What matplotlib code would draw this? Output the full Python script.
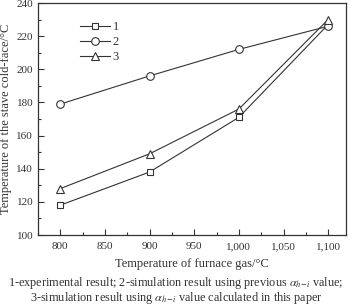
import matplotlib
matplotlib.use('Agg')
import matplotlib.pyplot as plt
from matplotlib.ticker import MultipleLocator

plt.rcParams['font.family'] = ['Liberation Serif', 'DejaVu Serif']
plt.rcParams['mathtext.fontset'] = 'stix'

# 数据
gas_temp = [800, 900, 1000, 1100]
exp_result = [118, 138, 171, 227]        # 1
sim_previous = [179, 196, 212, 226]      # 2
sim_this = [128, 149, 176, 230]          # 3
xticks = [800, 850, 900, 950, 1000, 1050, 1100]
xtick_labels = ['800', '850', '900', '950', '1,000', '1,050', '1,100']

c = '#333333'
fig = plt.figure(figsize=(3.52, 3.06), dpi=100)
ax = fig.add_axes([38/352, 1-235/306, 308/352, 232/306])

ax.plot(gas_temp, exp_result, color=c, lw=0.8, marker='s', ms=5, mfc='white', mec=c, mew=0.8, label='1')
ax.plot(gas_temp, sim_previous, color=c, lw=0.8, marker='o', ms=5.5, mfc='white', mec=c, mew=0.8, label='2')
ax.plot(gas_temp, sim_this, color=c, lw=0.8, marker='^', ms=5.5, mfc='white', mec=c, mew=0.8, label='3')

ax.set_xlim(775, 1120)
ax.set_ylim(100, 240)
ax.set_xticks(xticks)
ax.set_xticklabels(xtick_labels)
ax.xaxis.set_minor_locator(MultipleLocator(25))
ax.yaxis.set_major_locator(MultipleLocator(20))
ax.yaxis.set_minor_locator(MultipleLocator(10))
ax.tick_params(which='both', direction='in', colors=c, labelsize=8, labelcolor=c)
ax.tick_params(which='major', length=4, width=0.8)
ax.tick_params(which='minor', length=2, width=0.8)
ax.tick_params(axis='x', pad=5)
for s in ax.spines.values():
    s.set_color(c)
    s.set_linewidth(0.9)

ax.set_ylabel('Temperature of the stave cold-face/°C', fontsize=9, color=c, labelpad=3)
ax.set_xlabel('Temperature of furnace gas/°C', fontsize=9, color=c, labelpad=5)

leg = ax.legend(loc='upper left', bbox_to_anchor=(0.1, 0.97), frameon=False, fontsize=9,
                handlelength=2.4, handletextpad=0.2, labelspacing=0.25, labelcolor=c)

fig.text(0.5, 1-283/306, r'1-experimental result; 2-simulation result using previous $\alpha_{h\!-\!i}$ value;',
         ha='center', va='center', fontsize=8.8, color=c)
fig.text(0.5, 1-298/306, r'3-simulation result using $\alpha_{h\!-\!i}$ value calculated in this paper',
         ha='center', va='center', fontsize=8.8, color=c)

fig.savefig('out.png', dpi=100)
